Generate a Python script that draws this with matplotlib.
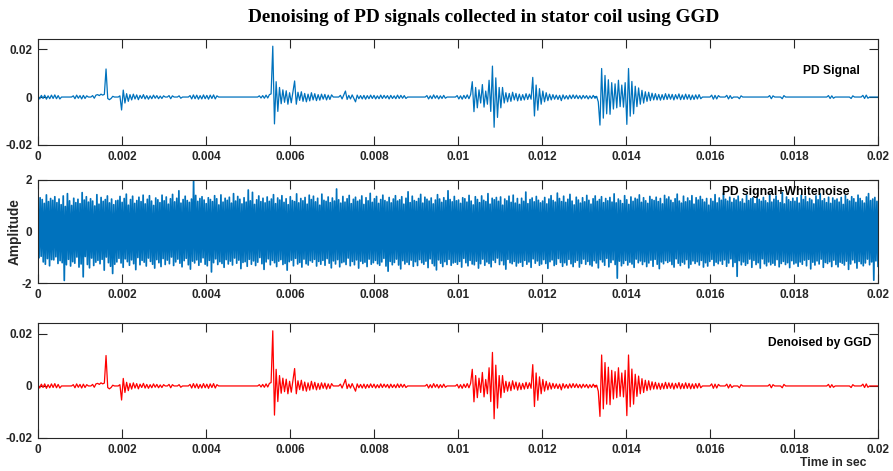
import numpy as np
import matplotlib
matplotlib.use("Agg")
import matplotlib.pyplot as plt

plt.rcParams['font.family'] = ['Liberation Sans', 'DejaVu Sans']

# ---------------- data ----------------
title_text = "Denoising of PD signals collected in stator coil using GGD"
x_ticks = [0, 0.002, 0.004, 0.006, 0.008, 0.01, 0.012, 0.014, 0.016, 0.018, 0.02]
x_tick_labels = ["0", "0.002", "0.004", "0.006", "0.008", "0.01", "0.012",
                 "0.014", "0.016", "0.018", "0.02"]
pd_y_ticks = [-0.02, 0, 0.02]
pd_y_tick_labels = ["-0.02", "0", "0.02"]
noisy_y_ticks = [-2, 0, 2]
noisy_y_tick_labels = ["-2", "0", "2"]

sample_step = 4e-5     # seconds between PD samples
pd_unit = 1e-4         # PD values below are in units of 1e-4

# start time of each active stretch of the PD signal (zero in between)
pd_seg_starts = [0.0, 0.00084, 0.00130, 0.00195, 0.00312, 0.00336, 0.00362,
                 0.00527, 0.00720, 0.00926, 0.00998, 0.01330, 0.01604,
                 0.01640, 0.01670, 0.01742, 0.01772, 0.01882, 0.01936, 0.01964]
pd_seg_00 = [6, -8, 7, -6, 8, -9, 5, -7, 8, -6, 9, -7, 6, -8]
pd_seg_01 = [5, -7, 8, -5, 6, -8, 7, -6, 5]
pd_seg_02 = [6, -5, 8, 10, 6, 12, 8, 11, 117, -6, -11, -6, 3]
pd_seg_03 = [5, -54, 29, -25, 14, -18, 10, -12, 12, -8, 9, -11, 7, -6, 10,
             -8, 6, -9, 5, -7, 8, -5, 6, -7, 4, -6, 5]
pd_seg_04 = [6, -7, 5]
pd_seg_05 = [5, -5]
pd_seg_06 = [6, -8, 9, -7, 8, -9, 6, -8, 9, -7, 7, -9, 8, -6, 9, -8, 5]
pd_seg_07 = [5, -4, 6, -5, 8, -4, 10, 13, 212, -112, 64, -60, 40, -28, 30,
             -22, 26, -30, 18, -24, 22, 67, -30, 20, -14, 22, -18, 15, -20,
             12, -16, 18, -12, 14, -15, 10, -13, 12, -9, 11, -12, 8, -10, 9]
pd_seg_08 = [7, -8, 9, 25, -10, 7, -8, 9, -6, -20, 8, -7, 6, -8, 7, -9, 6,
             -7, 8, -6, 7, -8, 5, -7, 8, -6, 7, -5, 6, -8, 7, -6, 5, -7, 8,
             -6, 7, -5, 6, -6]
pd_seg_09 = [6, -8, 5, -7, 9, -5, 6, -8, 5, -6, 7, -5]
pd_seg_10 = [6, -8, 5, -9, 7, -6, 9, -7, 10,
             64, -61, 40, -45, 30, -25, 52, -42, 25, -30, 70, -60, 129, -126,
             80, -85, 40, -45, 40, -25,
             18, -20, 15, -18, 20, -12, 15, -16, 12, -14, 10, -12, 14, -10,
             12, -9,
             82, -79, 50, -55, 35, -30, 25, -20, 18, -15, 12,
             -12, 10, -9, 8, -10, 7, -15, 9, -8, 6, -9, 8, -7, 9, -6, 8, -7,
             6, -8, 7, -5, 6, -8, 5, -6, 7, -5]
pd_seg_11 = [3, -20, -117, 119, -88, 90, -70, 72, -72, 60, -50, 55, -45, 70,
             -40, 50, -42, 60, -114, 119, -80, 65, -70, 45, -40, 38, -30, 28,
             -25, 22, -18, 20, -15, 16, -12, 14,
             -12, 11, -13, 10, -11, 14, -10, 12, -9, 11, -12, 10, -8, 13, -11,
             9, -10, 12, -9, 10, -11, 8, -10, 9, -8, 10, -7]
pd_seg_12 = [8, -9, 7, -8, 6]
pd_seg_13 = [7, -8, 6, -6]
pd_seg_14 = [-7, 5]
pd_seg_15 = [6, -7, 5]
pd_seg_16 = [-7, 6]
pd_seg_17 = [6, -6, 5, -5]
pd_seg_18 = [-6, 5]
pd_seg_19 = [7, -6, 8, -5]

# noisy signal (PD signal + white noise), values in units of 0.01
noisy_unit = 0.01
noisy_values = [
    118, -102, 131, -96, 124, -118, 109, -127, 142, -105, 116, -133, 128, -109, 121, -110, 135, -98, 112, -124,
    126, -113, 104, -121, 138, -190, 97, -129, 147, -108, 119, -134, 101, -117, 129, -123, 112, -99, 125, -138,
    108, -126, 151, -176, 122, -97, 135, -128, 114, -141, 127, -103, 118, -132, 99, -119, 143, -112, 106, -125,
    132, -108, 117, -150, 124, -99, 138, -121, 111, -135, 126, -163, 104, -127, 119, -118, 121, -104, 136, -122,
    113, -139, 128, -106, 145, -117, 102, -131, 124, -110, 137, -125, 109, -148, 120, -101, 133, -129, 116, -112,
    141, -119, 107, -134, 125, -103, 139, -116, 118, -127, 101, -142, 130, -109, 123, -121, 112, -136, 141, -105,
    119, -128, 134, -111, 106, -125, 127, -99, 144, -132, 115, -118, 129, -107, 158, -123, 110, -137, 124, -113,
    137, -104, 120, -129, 113, -146, 126, -115, 198, -122, 140, -110, 117, -131, 128, -119, 135, -102, 122, -127,
    108, -133, 131, -112, 124, -157, 116, -121, 139, -106, 127, -128, 103, -117, 142, -124, 114, -139, 129, -109,
    121, -126, 133, -115, 110, -130, 147, -103, 118, -123, 136, -111, 125, -144, 107, -120, 131, -117, 114, -135,
    161, -108, 119, -127, 152, -114, 105, -132, 123, -119, 138, -101, 116, -125, 129, -147, 111, -118, 134, -106,
    117, -129, 126, -112, 143, -121, 108, -136, 130, -115, 122, -109, 139, -128, 113, -124, 127, -150, 104, -117,
    135, -111, 120, -133, 116, -104, 146, -126, 111, -120, 128, -138, 119, -107, 132, -125, 106, -130, 141, -113,
    124, -119, 137, -108, 115, -134, 129, -116, 102, -127, 145, -112, 121, -131, 117, -105, 134, -123, 112, -141,
    130, -114, 118, -126, 165, -109, 123, -137, 110, -121, 136, -118, 114, -128, 127, -103, 140, -133, 108, -116,
    125, -129, 133, -110, 117, -142, 122, -115, 138, -124, 105, -119, 131, -136, 119, -107, 148, -127, 113, -121,
    127, -112, 136, -125, 109, -131, 124, -118, 141, -104, 120, -134, 115, -154, 132, -116, 111, -129, 126, -120,
    139, -107, 118, -130, 123, -145, 135, -113, 106, -126, 129, -119, 154, -128, 112, -111, 137, -135, 120, -117,
    116, -132, 128, -109, 144, -121, 110, -127, 133, -115, 125, -140, 118, -106, 130, -124, 107, -133, 122, -149,
    143, -110, 126, -123, 113, -136, 131, -117, 120, -128, 158, -108, 124, -131, 115, -122, 136, -119, 119, -127,
    122, -116, 109, -138, 131, -104, 127, -121, 114, -133, 140, -112, 118, -126, 103, -129, 135, -115, 124, -142,
    112, -125, 138, -107, 121, -131, 116, -118, 147, -124, 106, -137, 129, -111, 123, -120, 132, -103, 117, -128,
    134, -113, 102, -129, 126, -146, 119, -108, 137, -121, 113, -125, 141, -116, 110, -134, 128, -122, 105, -119,
    129, -135, 117, -112, 153, -127, 108, -118, 124, -139, 130, -106, 115, -123, 136, -114, 121, -131, 111, -126,
    118, -109, 132, -124, 107, -143, 126, -117, 139, -110, 120, -132, 114, -127, 149, -105, 128, -120, 116, -135,
    137, -121, 113, -130, 125, -108, 144, -125, 118, -136, 103, -119, 133, -112, 122, -138, 110, -124, 131, -107,
    115, -127, 140, -116, 121, -129, 106, -134, 127, -113, 138, -122, 117, -141, 124, -109, 135, -118, 112, -131,
    128, -104, 119, -137, 132, -120, 114, -110, 146, -128, 111, -181, 126, -115, 120, -133, 108, -124, 139, -112,
    123, -130, 105, -119, 134, -126, 117, -139, 129, -107, 125, -121, 142, -114, 113, -128, 131, -117, 119, -136,
    109, -122, 136, -111, 124, -135, 120, -108, 133, -127, 116, -144, 128, -118, 107, -125, 140, -113, 126, -120,
    134, -115, 121, -128, 112, -138, 127, -106, 145, -123, 118, -132, 110, -119, 137, -126, 115, -109, 130, -141,
    119, -127, 139, -114, 106, -124, 131, -117, 122, -130, 136, -112, 124, -138, 114, -121, 128, -134, 102, -116,
    127, -108, 117, -132, 143, -119, 111, -125, 130, -114, 121, -127, 148, -110, 125, -135, 118, -122, 133, -106,
    113, -136, 128, -120, 122, -174, 137, -113, 115, -129, 126, -118, 109, -131, 140, -124, 120, -107, 127, -139,
    131, -112, 108, -128, 135, -121, 124, -142, 117, -106, 132, -125, 119, -133, 111, -118, 144, -129, 114, -123,
    125, -131, 138, -109, 120, -137, 112, -124, 151, -116, 107, -128, 134, -121, 123, -140, 116, -113, 129, -126,
    117, -122, 131, -135, 110, -118, 141, -127, 124, -111, 136, -133, 115, -108, 128, -145, 122, -119, 107, -130,
    138, -114, 123, -126, 146, -107, 119, -139, 127, -120, 112, -124, 133, -117, 109, -136, 130, -111, 121, -128,
    126, -137, 114, -119, 132, -123, 105, -130, 139, -115, 124, -147, 118, -126, 135, -110, 127, -121, 113, -142,
    141, -116, 128, -125, 119, -133, 110, -122, 134, -107, 147, -129, 120, -118, 126, -189, 132, -114, 117, -135,
]

pd_segments = [pd_seg_00, pd_seg_01, pd_seg_02, pd_seg_03, pd_seg_04, pd_seg_05,
               pd_seg_06, pd_seg_07, pd_seg_08, pd_seg_09, pd_seg_10, pd_seg_11,
               pd_seg_12, pd_seg_13, pd_seg_14, pd_seg_15, pd_seg_16, pd_seg_17,
               pd_seg_18, pd_seg_19]
# the GGD-denoised signal reproduces the PD signal
den_seg_starts = pd_seg_starts
den_segments = pd_segments


def assemble(starts, segments, t_end=0.02):
    t, y = [], []
    for s, vals in zip(starts, segments):
        n = len(vals)
        tt = s + sample_step * np.arange(n)
        t.append(s - sample_step); y.append(0.0)
        t.extend(tt); y.extend(np.asarray(vals) * pd_unit)
        t.append(tt[-1] + sample_step); y.append(0.0)
    t.append(t_end); y.append(0.0)
    return np.array(t), np.array(y)


pd_t, pd_y = assemble(pd_seg_starts, pd_segments)
den_t, den_y = assemble(den_seg_starts, den_segments)
noisy_t = np.linspace(0, 0.02, len(noisy_values))
noisy_y = np.asarray(noisy_values) * noisy_unit

# ---------------- figure ----------------
W, H = 893, 471
fig = plt.figure(figsize=(W / 100, H / 100), dpi=100)


def rect(x0, x1, y0, y1):
    return [x0 / W, 1 - y1 / H, (x1 - x0) / W, (y1 - y0) / H]


ax1 = fig.add_axes(rect(38, 878, 39, 145))
ax2 = fig.add_axes(rect(38, 878, 180, 283))
ax3 = fig.add_axes(rect(38, 878, 323, 438))

blue = '#0072BD'
ax1.plot(pd_t, pd_y, color=blue, lw=0.9)
ax2.plot(noisy_t, noisy_y, color=blue, lw=1.25)
ax3.plot(den_t, den_y, color='#FF0000', lw=0.9)

axc = '#262626'
for ax in (ax1, ax2, ax3):
    ax.set_xlim(0, 0.02)
    ax.set_xticks(x_ticks)
    ax.set_xticklabels(x_tick_labels)
    ax.tick_params(direction='in', length=6.5, width=0.8, top=True, right=True,
                   labelsize=8.5, pad=4, colors=axc)
    for sp in ax.spines.values():
        sp.set_linewidth(0.8)
        sp.set_color(axc)

for ax in (ax1, ax3):
    ax.set_ylim(-0.02, 0.0242)
    ax.set_yticks(pd_y_ticks)
    ax.set_yticklabels(pd_y_tick_labels)
ax2.set_ylim(-2, 2)
ax2.set_yticks(noisy_y_ticks)
ax2.set_yticklabels(noisy_y_tick_labels)

for ax in (ax1, ax2, ax3):
    for lab in ax.get_xticklabels() + ax.get_yticklabels():
        lab.set_fontweight('bold')

fig.text(484 / W, 1 - 17 / H, title_text, ha='center', va='center',
         family=['Liberation Serif'], fontweight='bold', fontsize=13.8)
fig.text(803 / W, 1 - 71 / H, "PD Signal", ha='left', va='center',
         fontweight='bold', fontsize=8.7, color='black')
fig.text(722 / W, 1 - 192 / H, "PD signal+Whitenoise", ha='left', va='center',
         fontweight='bold', fontsize=8.7, color='black')
fig.text(768 / W, 1 - 343 / H, "Denoised by GGD", ha='left', va='center',
         fontweight='bold', fontsize=8.7, color='black')
fig.text(15 / W, 1 - 232 / H, "Amplitude", ha='center', va='center',
         rotation=90, fontweight='bold', fontsize=9.8, color=axc)
fig.text(867 / W, 1 - 463 / H, "Time in sec", ha='right', va='center',
         fontweight='bold', fontsize=8.8, color=axc)

fig.savefig('out.png', dpi=100)
